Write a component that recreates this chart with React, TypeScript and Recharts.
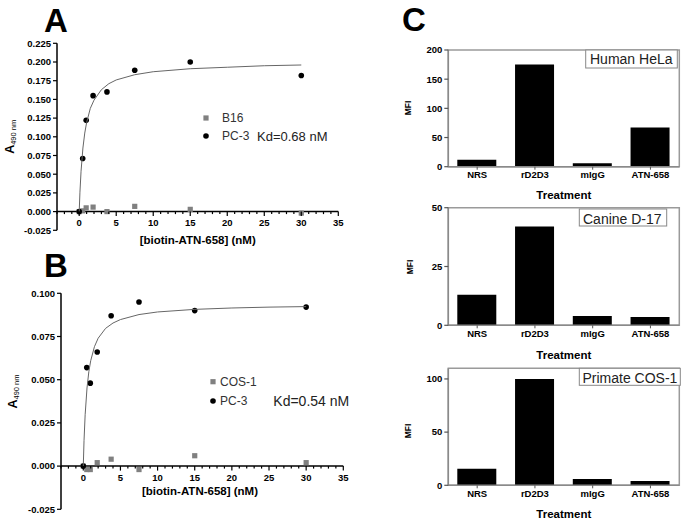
import React from 'react';
import { ScatterChart, Scatter, XAxis, YAxis, ReferenceLine, ReferenceArea, BarChart, Bar } from 'recharts';

const FONT = 'Arial, "Liberation Sans", Helvetica, sans-serif';

// ---------- Panel A ----------
const concA = [0, 0.47, 0.94, 1.875, 3.75, 7.5, 15, 30];
const pc3A = [0, 0.071, 0.122, 0.155, 0.16, 0.189, 0.2, 0.182];
const b16A = [0, 0.001, 0.005, 0.006, 0.0, 0.007, 0.003, -0.002];
const fitX = [0, 0.1, 0.25, 0.5, 0.75, 1, 1.5, 2, 3, 4, 5, 7.5, 10, 15, 20, 25, 30];
const fitA = [0, 0.026, 0.054, 0.085, 0.105, 0.119, 0.138, 0.149, 0.163, 0.171, 0.176, 0.183, 0.187, 0.191, 0.193, 0.195, 0.196];
const yTicksA = [-0.025, 0, 0.025, 0.05, 0.075, 0.1, 0.125, 0.15, 0.175, 0.2, 0.225];

// ---------- Panel B ----------
const concB = [0, 0.47, 0.94, 1.875, 3.75, 7.5, 15, 30];
const pc3B = [0, 0.057, 0.048, 0.066, 0.087, 0.095, 0.09, 0.092];
const cos1B = [0, -0.002, -0.002, 0.002, 0.004, -0.002, 0.006, 0.002];
const fitB = [0, 0.0147, 0.0297, 0.0452, 0.0547, 0.061, 0.0691, 0.074, 0.0797, 0.0828, 0.0848, 0.0877, 0.0892, 0.0907, 0.0915, 0.092, 0.0923];
const yTicksB = [-0.025, 0, 0.025, 0.05, 0.075, 0.1];

const xTicks = [-3, -2, -1, 0, 1, 2, 3, 4, 5, 6, 7, 8, 9, 10, 11, 12, 13, 14, 15, 16, 17, 18, 19, 20, 21, 22, 23, 24, 25, 26, 27, 28, 29, 30, 31, 32, 33, 34, 35];

// ---------- Panel C ----------
const treatments = ['NRS', 'rD2D3', 'mIgG', 'ATN-658'];
const mfiHeLa = [12, 175, 6, 67];
const mfiD17 = [13, 42, 4, 3.5];
const mfiCOS1 = [15.5, 100, 6, 4];
const ticksHeLa = [0, 50, 100, 150, 200];
const ticksD17 = [0, 25, 50];
const ticksCOS1 = [0, 50, 100];

const pts = (xs: number[], ys: number[]) => xs.map((x, i) => ({ x, y: ys[i] }));

const Square = (p: any) => <rect x={p.cx - 2.6} y={p.cy - 2.6} width={5.2} height={5.2} fill="#808080" />;
const Dot = (p: any) => <circle cx={p.cx} cy={p.cy} r={2.8} fill="#000" />;
const Empty = () => <g />;

function ScatterPanel(props: any) {
  const { left, top, width, height, plotLeft, plotTop, plotRight, plotBottom, yDomain, yTicks, grey, black, fit, labelOff } = props;
  const mTop = plotTop - top;
  const yAxisW = plotLeft - left;
  const mRight = left + width - plotRight;
  const xAxisH = top + height - plotBottom;
  const plotH = plotBottom - plotTop;
  const zeroY = mTop + (plotH * yDomain[1]) / (yDomain[1] - yDomain[0]);
  const renderTick = (p: any) => {
    const v = p.payload.value;
    const major = v % 5 === 0;
    return (
      <g>
        <line x1={p.x} x2={p.x} y1={zeroY} y2={zeroY + (major ? 4.5 : 2.5)} stroke="#000" strokeWidth={1.2} />
        {major && v >= 0 ? (
          <text x={p.x} y={zeroY + labelOff} textAnchor="middle" fontSize={9.5} fontWeight="bold" fontFamily={FONT} fill="#000">
            {v}
          </text>
        ) : null}
      </g>
    );
  };
  return (
    <div style={{ position: 'absolute', left, top, width, height }}>
      <ScatterChart width={width} height={height} margin={{ top: mTop, right: mRight, left: 0, bottom: 0 }}>
        <XAxis
          type="number"
          dataKey="x"
          domain={[-3, 35]}
          ticks={xTicks}
          interval={0}
          height={xAxisH}
          axisLine={false}
          tickLine={false}
          tick={renderTick}
          allowDataOverflow
        />
        <YAxis
          type="number"
          dataKey="y"
          domain={yDomain}
          ticks={yTicks}
          interval={0}
          width={yAxisW}
          tickSize={4}
          tickMargin={2}
          allowDataOverflow
          axisLine={{ stroke: '#000', strokeWidth: 1.5 }}
          tickLine={{ stroke: '#000', strokeWidth: 1.2 }}
          tick={{ fontSize: 9.5, fontWeight: 'bold', fill: '#000', fontFamily: FONT }}
          tickFormatter={(v: number) => v.toFixed(3)}
        />
        <ReferenceLine y={0} stroke="#000" strokeWidth={1.5} />
        <Scatter data={grey} shape={Square} isAnimationActive={false} />
        <Scatter data={black} shape={Dot} isAnimationActive={false} />
        <Scatter data={fit} shape={Empty} line={{ stroke: '#666', strokeWidth: 1 }} isAnimationActive={false} />
      </ScatterChart>
    </div>
  );
}

function BarPanel(props: any) {
  const { top, height, plotTop, plotBottom, values, yMax, yTicks } = props;
  const left = 400;
  const width = 289;
  const plotLeft = 448.3;
  const plotRight = 679.3;
  const rows = treatments.map((name, i) => ({ name, v: values[i] }));
  return (
    <div style={{ position: 'absolute', left, top, width, height }}>
      <BarChart
        width={width}
        height={height}
        data={rows}
        margin={{ top: plotTop - top, right: left + width - plotRight, left: 0, bottom: 0 }}
        barSize={39}
      >
        <ReferenceArea y1={0} y2={yMax} fill="none" stroke="#9a9a9a" strokeWidth={1.5} ifOverflow="visible" />
        <XAxis
          dataKey="name"
          height={top + height - plotBottom}
          interval={0}
          tickSize={3}
          tickMargin={2}
          axisLine={{ stroke: '#8a8a8a', strokeWidth: 1.5 }}
          tickLine={{ stroke: '#555' }}
          tick={{ fontSize: 9.5, fontWeight: 'bold', fill: '#000', fontFamily: FONT }}
        />
        <YAxis
          type="number"
          domain={[0, yMax]}
          ticks={yTicks}
          interval={0}
          width={plotLeft - left}
          tickSize={4}
          tickMargin={2}
          allowDataOverflow
          axisLine={{ stroke: '#8a8a8a', strokeWidth: 1.5 }}
          tickLine={{ stroke: '#555', strokeWidth: 1.2 }}
          tick={{ fontSize: 9.5, fontWeight: 'bold', fill: '#000', fontFamily: FONT }}
        />
        <Bar dataKey="v" fill="#000" isAnimationActive={false} />
      </BarChart>
    </div>
  );
}

const txt = { fontFamily: FONT } as any;

export default function App() {
  return (
    <div style={{ position: 'absolute', left: 0, top: 0, width: 689, height: 521, background: '#fff', overflow: 'hidden' }}>
      <ScatterPanel
        left={0}
        top={0}
        width={360}
        height={250}
        plotLeft={57}
        plotTop={43.3}
        plotRight={338.3}
        plotBottom={230.3}
        yDomain={[-0.025, 0.225]}
        yTicks={yTicksA}
        grey={pts(concA, b16A)}
        black={pts(concA, pc3A)}
        fit={pts(fitX, fitA)}
        labelOff={14.5}
      />
      <ScatterPanel
        left={0}
        top={250}
        width={360}
        height={271}
        plotLeft={61}
        plotTop={293.3}
        plotRight={343.3}
        plotBottom={509.3}
        yDomain={[-0.025, 0.1]}
        yTicks={yTicksB}
        grey={pts(concB, cos1B)}
        black={pts(concB, pc3B)}
        fit={pts(fitX, fitB)}
        labelOff={15.3}
      />
      <BarPanel top={0} height={200} plotTop={50} plotBottom={166.7} values={mfiHeLa} yMax={200} yTicks={ticksHeLa} />
      <BarPanel top={160} height={200} plotTop={207.7} plotBottom={325.3} values={mfiD17} yMax={50} yTicks={ticksD17} />
      <BarPanel top={320} height={201} plotTop={368.3} plotBottom={485.3} values={mfiCOS1} yMax={110} yTicks={ticksCOS1} />

      <svg width={689} height={521} style={{ position: 'absolute', left: 0, top: 0, pointerEvents: 'none' }}>
        {/* panel letters */}
        <text x={44} y={31.7} fontSize={33} fontWeight="bold" {...txt} fill="#000">A</text>
        <text x={44} y={276.7} fontSize={33} fontWeight="bold" {...txt} fill="#000">B</text>
        <text x={402} y={31.3} fontSize={33} fontWeight="bold" {...txt} fill="#000">C</text>

        {/* y labels A / B */}
        <text transform="translate(14,136.8) rotate(-90)" textAnchor="middle" {...txt} fill="#000">
          <tspan fontSize={12.5} fontWeight="bold">A</tspan>
          <tspan fontSize={7.5} dy={2}>490 nm</tspan>
        </text>
        <text transform="translate(17,391.5) rotate(-90)" textAnchor="middle" {...txt} fill="#000">
          <tspan fontSize={12.5} fontWeight="bold">A</tspan>
          <tspan fontSize={7.5} dy={2}>490 nm</tspan>
        </text>

        {/* x titles A / B */}
        <text x={197.7} y={243.8} textAnchor="middle" fontSize={11.5} fontWeight="bold" {...txt} fill="#000">[biotin-ATN-658] (nM)</text>
        <text x={200} y={494.5} textAnchor="middle" fontSize={11.5} fontWeight="bold" {...txt} fill="#000">[biotin-ATN-658] (nM)</text>

        {/* legend A */}
        <rect x={203.4} y={115.4} width={5.2} height={5.2} fill="#808080" />
        <text x={222} y={122.2} fontSize={12} {...txt} fill="#333">B16</text>
        <circle cx={206} cy={136} r={2.8} fill="#000" />
        <text x={222} y={140.2} fontSize={12} {...txt} fill="#333">PC-3</text>
        <text x={257} y={140.7} fontSize={13} {...txt} fill="#222">Kd=0.68 nM</text>

        {/* legend B */}
        <rect x={210.4} y={379.1} width={5.2} height={5.2} fill="#808080" />
        <text x={220} y={386} fontSize={12} {...txt} fill="#333">COS-1</text>
        <circle cx={213} cy={401} r={2.8} fill="#000" />
        <text x={220} y={405.2} fontSize={12} {...txt} fill="#333">PC-3</text>
        <text x={273.3} y={406} fontSize={14} {...txt} fill="#222">Kd=0.54 nM</text>

        {/* MFI labels */}
        <text transform="translate(411,108) rotate(-90)" textAnchor="middle" fontSize={8.5} fontWeight="bold" {...txt} fill="#000">MFI</text>
        <text transform="translate(413,267) rotate(-90)" textAnchor="middle" fontSize={8.5} fontWeight="bold" {...txt} fill="#000">MFI</text>
        <text transform="translate(411,431) rotate(-90)" textAnchor="middle" fontSize={8.5} fontWeight="bold" {...txt} fill="#000">MFI</text>

        {/* Treatment titles */}
        <text x={563.8} y={199} textAnchor="middle" fontSize={11.5} fontWeight="bold" {...txt} fill="#000">Treatment</text>
        <text x={563.8} y={358.5} textAnchor="middle" fontSize={11.5} fontWeight="bold" {...txt} fill="#000">Treatment</text>
        <text x={563.8} y={517.5} textAnchor="middle" fontSize={11.5} fontWeight="bold" {...txt} fill="#000">Treatment</text>

        {/* cell line boxes */}
        <rect x={585.7} y={50} width={91.6} height={18} fill="#fff" stroke="#888" strokeWidth={1} />
        <text x={590} y={64} fontSize={14} {...txt} fill="#222">Human HeLa</text>
        <rect x={579.3} y={209} width={87.4} height={17} fill="#fff" stroke="#888" strokeWidth={1} />
        <text x={583} y={223.5} fontSize={14} {...txt} fill="#222">Canine D-17</text>
        <rect x={579.3} y={368.3} width={101} height={17} fill="#fff" stroke="#888" strokeWidth={1} />
        <text x={582.5} y={382.8} fontSize={14} {...txt} fill="#222">Primate COS-1</text>
      </svg>
    </div>
  );
}
